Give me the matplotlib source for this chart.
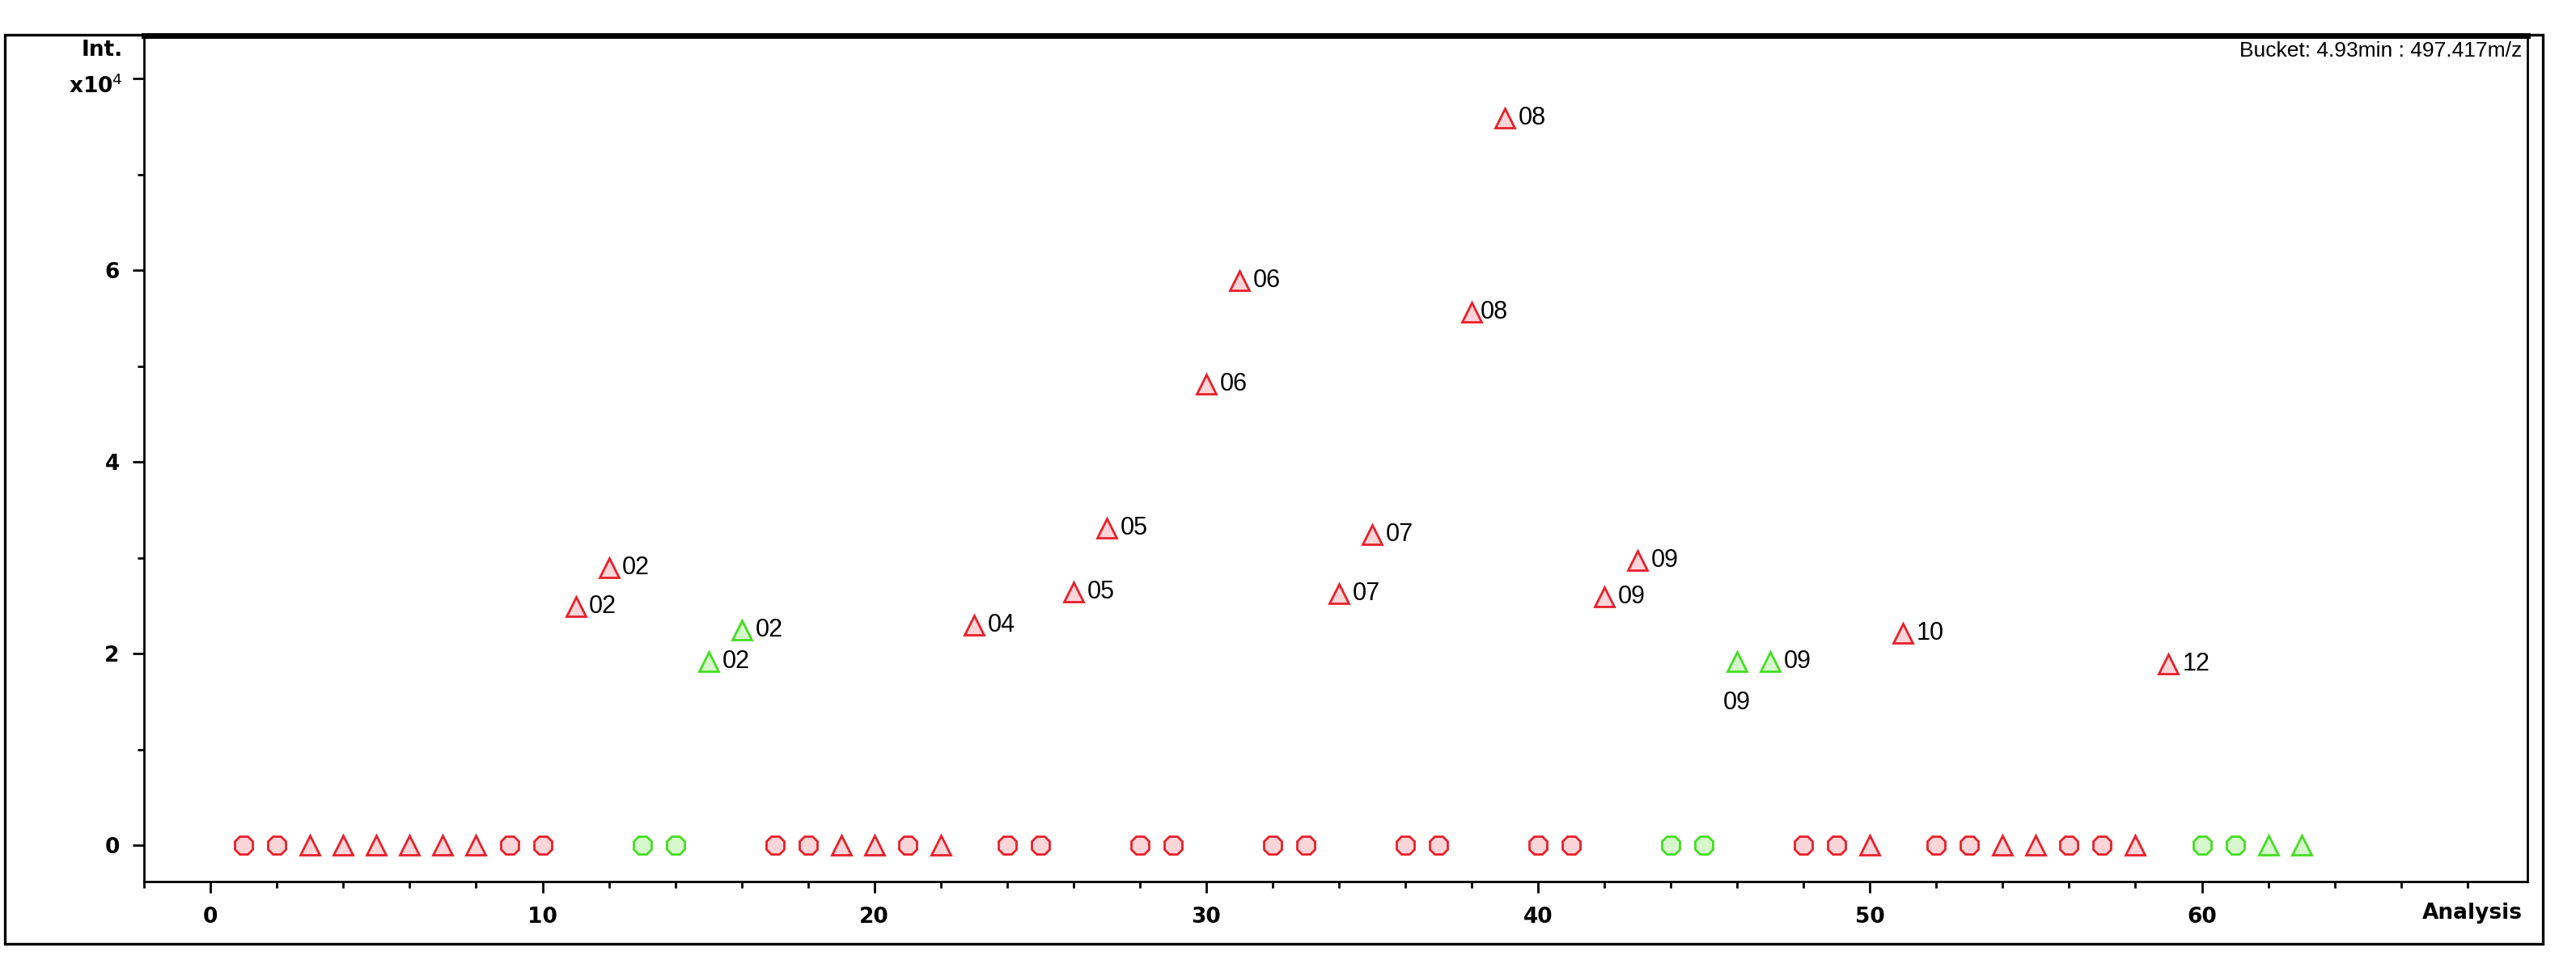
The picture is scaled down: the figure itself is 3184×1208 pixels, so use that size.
import matplotlib.pyplot as plt
import matplotlib.patches as mpatches
from matplotlib.ticker import MultipleLocator

# analysis index, intensity (x1e4), marker, colour group, label
zero_x = [1, 2, 3, 4, 5, 6, 7, 8, 9, 10, 13, 14, 17, 18, 19, 20, 21, 22, 24, 25,
          28, 29, 32, 33, 36, 37, 40, 41, 44, 45, 48, 49, 50, 52, 53, 54, 55, 56,
          57, 58, 60, 61, 62, 63]
zero_m = ["o", "o", "^", "^", "^", "^", "^", "^", "o", "o", "o", "o", "o", "o", "^", "^", "o", "^", "o", "o",
          "o", "o", "o", "o", "o", "o", "o", "o", "o", "o", "o", "o", "^", "o", "o", "^", "^", "o",
          "o", "^", "o", "o", "^", "^"]
zero_g = ["r"] * 10 + ["g", "g"] + ["r"] * 16 + ["g", "g"] + ["r"] * 10 + ["g"] * 4

hi_x = [11, 12, 15, 16, 23, 26, 27, 30, 31, 34, 35, 38, 39, 42, 43, 46, 47, 51, 59]
hi_y = [2.49, 2.90, 1.92, 2.25, 2.30, 2.64, 3.31, 4.81, 5.89, 2.63, 3.24, 5.56, 7.59,
        2.59, 2.97, 1.92, 1.92, 2.21, 1.89]
hi_g = ["r", "r", "g", "g", "r", "r", "r", "r", "r", "r", "r", "r", "r", "r", "r", "g", "g", "r", "r"]
hi_lab = ["02", "02", "02", "02", "04", "05", "05", "06", "06", "07", "07", "08", "08",
          "09", "09", "09", "09", "10", "12"]

EDGE = {"r": "#e8202a", "g": "#44dd22"}
FILL = {"r": "#fcd5d8", "g": "#d6f8cc"}

fig = plt.figure(figsize=(15.92, 6.04), dpi=200)
ax = fig.add_axes([0.056, 0.0975, 0.925, 0.866])

for x, m, g in zip(zero_x, zero_m, zero_g):
    ax.plot(x, 0, marker="8" if m == "o" else "^", ms=8.5, mec=EDGE[g], mfc=FILL[g], mew=1)
for x, y, g, lab in zip(hi_x, hi_y, hi_g, hi_lab):
    ax.plot(x, y, marker="^", ms=8.5, mec=EDGE[g], mfc=FILL[g], mew=1)
    if x == 46:
        ax.annotate(lab, (x, y), xytext=(0, -13), textcoords="offset points",
                    ha="center", va="top", fontsize=11, family="Liberation Sans")
    else:
        ax.annotate(lab, (x, y), xytext=(6 if x != 38 else 4, 0), textcoords="offset points",
                    ha="left", va="center", fontsize=11, family="Liberation Sans")

ax.set_xlim(-2, 69.8)
ax.set_ylim(-0.38, 8.45)
ax.xaxis.set_major_locator(MultipleLocator(10))
ax.xaxis.set_minor_locator(MultipleLocator(2))
ax.set_yticks([0, 2, 4, 6, 8])
ax.set_yticklabels(["0", "2", "4", "6", ""])
ax.yaxis.set_minor_locator(MultipleLocator(1))
ax.tick_params(which="both", direction="out", labelsize=9.5, width=1)
ax.tick_params(which="major", length=5, pad=6)
ax.tick_params(which="minor", length=3)
for t in ax.get_xticklabels() + ax.get_yticklabels():
    t.set_fontweight("bold")
ax.spines["top"].set_linewidth(2.5)
for s in ["left", "bottom", "right"]:
    ax.spines[s].set_linewidth(1)

ax.text(-0.009, 0.995, "Int.", transform=ax.transAxes, ha="right", va="top",
        fontsize=9.5, fontweight="bold")
ax.text(-0.009, 0.94, "x10$^4$", transform=ax.transAxes, ha="right", va="center",
        fontsize=9.5, fontweight="bold")
ax.text(0.998, -0.025, "Analysis", transform=ax.transAxes, ha="right", va="top",
        fontsize=9.5, fontweight="bold")
ax.text(0.998, 0.993, "Bucket: 4.93min : 497.417m/z", transform=ax.transAxes,
        ha="right", va="top", fontsize=9.5, family="Liberation Sans")

fig.patches.append(mpatches.Rectangle((0.002, 0.034), 0.985, 0.93, transform=fig.transFigure,
                                      fill=False, lw=1.2, ec="black"))
fig.savefig("out.png", dpi=200)
